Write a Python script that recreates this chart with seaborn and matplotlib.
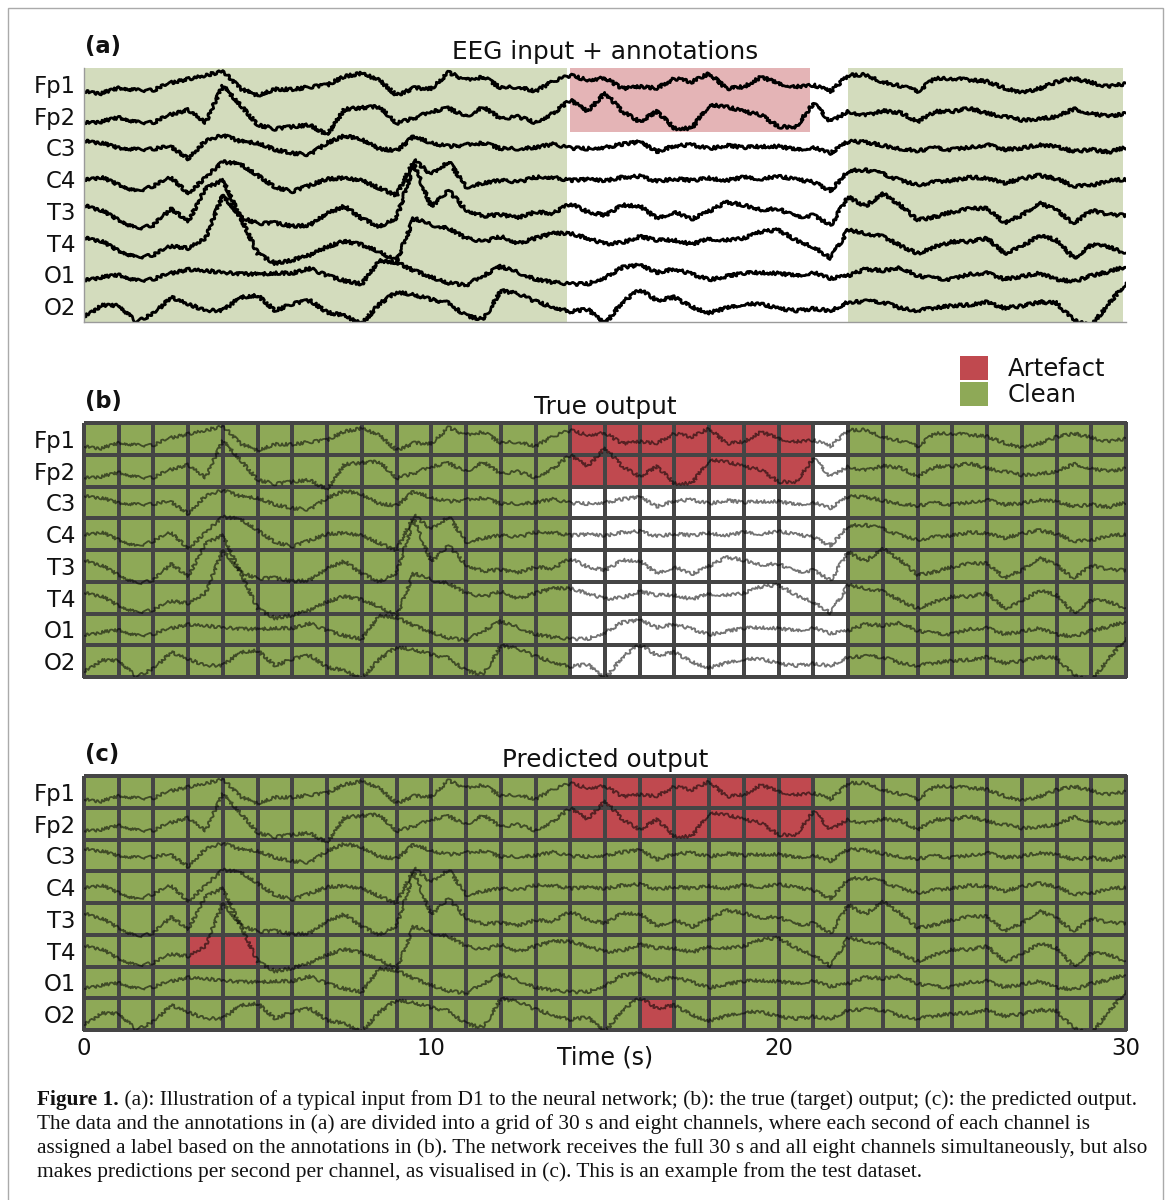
import numpy as np
import pandas as pd
import matplotlib
matplotlib.use("Agg")
import matplotlib.pyplot as plt
import seaborn as sns
from matplotlib.colors import ListedColormap
from matplotlib.patches import Patch, Rectangle

# ---------------- data ----------------
channels = ["Fp1", "Fp2", "C3", "C4", "T3", "T4", "O1", "O2"]
time_s = [i * 0.5 for i in range(61)]

# EEG traces (deflection from channel baseline, in row-height units, + = up)
fp1 = [-0.25, -0.30, -0.13, -0.20, -0.20, 0.04, 0.15, 0.27, 0.40, -0.15,
       -0.36, -0.17, -0.17, -0.10, -0.04, 0.24, 0.33, 0.12, -0.36, -0.13,
       -0.15, 0.36, 0.12, 0.22, -0.13, -0.09, -0.23, 0.08, 0.27, 0.12,
       0.19, -0.15, -0.09, -0.13, 0.17, 0.06, 0.33, -0.15, -0.09, 0.22,
       0.01, -0.09, -0.04, -0.23, 0.27, 0.29, 0.06, -0.06, -0.23, 0.17,
       0.17, 0.12, 0.08, -0.13, -0.27, -0.15, 0.06, 0.17, 0.04, -0.09,
       0.01]
fp2 = [-0.24, -0.19, -0.06, -0.21, -0.22, 0.04, 0.18, -0.21, 0.94, 0.34,
       -0.29, -0.42, -0.35, -0.29, -0.61, 0.20, 0.25, 0.28, -0.24, -0.08,
       0.13, 0.23, -0.03, 0.28, -0.10, -0.03, -0.22, 0.07, 0.49, 0.13,
       0.72, 0.13, -0.19, 0.13, -0.40, -0.40, 0.34, 0.28, 0.13, 0.02,
       -0.35, -0.35, 0.39, -0.19, 0.13, 0.00, 0.15, 0.10, -0.19, 0.13,
       0.13, 0.23, 0.07, -0.03, -0.14, -0.10, -0.03, 0.21, 0.07, -0.03,
       0.07]
c3 = [0.19, 0.14, -0.02, -0.07, -0.05, 0.03, -0.36, 0.21, 0.38, 0.19,
      0.14, -0.07, -0.18, -0.23, 0.14, 0.37, 0.24, -0.04, -0.10, 0.35,
      0.14, 0.03, 0.08, 0.14, -0.04, -0.04, 0.00, 0.10, -0.02, -0.04,
      0.00, 0.10, 0.17, -0.13, 0.05, 0.08, -0.04, 0.06, 0.00, 0.03,
      0.03, -0.07, 0.00, -0.18, 0.19, 0.17, 0.06, -0.04, -0.10, -0.02,
      -0.07, 0.00, 0.08, -0.07, -0.02, 0.08, 0.03, -0.13, -0.07, -0.15,
      0.00]
c4 = [-0.04, 0.06, -0.18, -0.39, -0.22, 0.06, -0.46, 0.06, 0.54, 0.48,
      0.12, -0.25, -0.39, -0.20, 0.01, 0.03, -0.04, -0.28, -0.51, 0.60,
      0.15, 0.55, -0.25, -0.12, -0.04, -0.09, 0.06, 0.06, -0.04, -0.01,
      -0.05, 0.06, 0.09, -0.07, 0.01, -0.04, 0.03, -0.04, 0.06, 0.01,
      0.09, -0.01, -0.09, -0.36, 0.27, 0.29, 0.17, -0.04, -0.18, -0.09,
      -0.04, 0.06, 0.03, -0.12, 0.01, 0.12, 0.01, -0.22, -0.20, -0.04,
      -0.01]
t3 = [0.16, 0.02, -0.29, -0.56, -0.45, 0.07, -0.33, 0.70, 0.97, -0.19,
      -0.40, -0.38, -0.48, -0.45, -0.08, 0.15, -0.24, -0.50, -0.22, 1.45,
      0.13, 0.65, 0.02, -0.16, -0.12, -0.22, -0.03, -0.08, 0.23, -0.03,
      -0.14, 0.18, 0.16, -0.24, -0.03, -0.26, -0.01, 0.28, 0.18, 0.04,
      0.07, -0.19, -0.14, -0.45, 0.44, 0.15, 0.55, 0.18, -0.29, -0.19,
      -0.03, 0.07, 0.09, -0.37, -0.14, 0.26, 0.02, -0.40, 0.02, -0.12,
      -0.14]
t4 = [0.14, 0.05, -0.26, -0.47, -0.39, -0.10, -0.18, 0.15, 1.50, 0.82,
      -0.35, -0.65, -0.55, -0.39, -0.13, 0.05, -0.07, -0.28, -0.58, 0.77,
      0.56, 0.45, 0.14, 0.03, 0.19, -0.02, 0.14, 0.29, 0.29, 0.14,
      -0.04, 0.00, 0.19, 0.08, 0.08, -0.05, 0.12, 0.08, 0.14, 0.35,
      0.40, 0.08, -0.13, -0.49, 0.40, 0.29, 0.19, -0.09, -0.34, -0.13,
      0.03, 0.03, 0.14, -0.34, -0.13, 0.24, 0.08, -0.49, -0.07, -0.13,
      -0.34]
o1 = [-0.20, -0.09, -0.02, -0.20, -0.15, 0.04, 0.15, 0.12, 0.06, 0.01,
      0.01, 0.04, 0.04, 0.19, -0.04, -0.20, -0.30, 0.43, 0.38, 0.12,
      -0.09, -0.27, -0.34, -0.04, 0.25, 0.06, -0.15, -0.25, -0.30, -0.30,
      -0.10, 0.22, 0.29, 0.06, 0.17, 0.01, -0.17, -0.06, 0.04, 0.06,
      0.03, -0.04, 0.06, -0.13, -0.04, 0.17, 0.12, 0.22, -0.04, -0.13,
      -0.15, 0.01, 0.04, -0.15, -0.06, 0.04, -0.15, -0.23, -0.04, 0.08,
      0.25]
o2 = [-0.35, 0.02, 0.02, -0.50, -0.24, 0.28, 0.07, -0.14, -0.14, 0.28,
      0.34, -0.14, 0.07, 0.18, -0.19, -0.30, -0.56, 0.07, 0.44, 0.36,
      0.21, 0.10, -0.31, -0.42, 0.49, 0.39, 0.15, -0.03, -0.17, -0.10,
      -0.56, 0.13, 0.52, 0.18, 0.28, -0.03, -0.21, -0.06, 0.07, 0.07,
      -0.08, -0.14, -0.08, -0.14, 0.13, 0.15, 0.13, -0.06, -0.14, -0.06,
      0.02, 0.04, 0.13, -0.06, 0.00, 0.13, 0.10, -0.45, -0.61, 0.07,
      0.73]
traces = [fp1, fp2, c3, c4, t3, t4, o1, o2]

# annotations in panel (a) (seconds)
clean_spans = [(0.0, 13.9), (22.0, 29.9)]
artefact_span = (14.0, 20.9)
artefact_channels = ["Fp1", "Fp2"]

# per-second labels: C = clean, A = artefact, U = unlabelled
true_output = {
    "Fp1": "C" * 14 + "A" * 7 + "U" + "C" * 8,
    "Fp2": "C" * 14 + "A" * 7 + "U" + "C" * 8,
    "C3": "C" * 14 + "U" * 8 + "C" * 8,
    "C4": "C" * 14 + "U" * 8 + "C" * 8,
    "T3": "C" * 14 + "U" * 8 + "C" * 8,
    "T4": "C" * 14 + "U" * 8 + "C" * 8,
    "O1": "C" * 14 + "U" * 8 + "C" * 8,
    "O2": "C" * 14 + "U" * 8 + "C" * 8,
}
pred_output = {
    "Fp1": "C" * 14 + "A" * 7 + "C" * 9,
    "Fp2": "C" * 14 + "A" * 8 + "C" * 8,
    "C3": "C" * 30,
    "C4": "C" * 30,
    "T3": "C" * 30,
    "T4": "C" * 3 + "A" * 2 + "C" * 25,
    "O1": "C" * 30,
    "O2": "C" * 16 + "A" + "C" * 13,
}
x_ticks = [0, 10, 20, 30]

# ---------------- style ----------------
sns.set_style("white")
plt.rcParams["font.family"] = ["DejaVu Sans"]
plt.rcParams["text.color"] = "#111111"
plt.rcParams["xtick.labelcolor"] = "#111111"
plt.rcParams["ytick.labelcolor"] = "#111111"

GREEN = "#8ea957"
RED = "#c0494f"
LGREEN = "#d3dcbd"
LRED = "#e4b4b6"
GRIDC = "#454545"
code = {"U": 0, "C": 1, "A": 2}
cmap = ListedColormap(["white", GREEN, RED])

W, H = 1171, 1200
fig = plt.figure(figsize=(W / 100, H / 100), dpi=100)


def box(top_px, bottom_px):
    return [84 / W, 1 - bottom_px / H, (1126 - 84) / W, (bottom_px - top_px) / H]


ax_a = fig.add_axes(box(68, 322))
ax_b = fig.add_axes(box(423, 677))
ax_c = fig.add_axes(box(776, 1030))

rows = []
for i, (ch, vals) in enumerate(zip(channels, traces)):
    for t, v in zip(time_s, vals):
        rows.append({"channel": ch, "time": t, "ypos": i + 0.5 - v})
df = pd.DataFrame(rows)

TICK_FS = 16.4
TITLE_FS = 17.8


def jagged(ax, n_before):
    # EEG-like rendering texture (drawing style only, data unchanged)
    for ln in ax.lines[n_before:]:
        ln.set_sketch_params(scale=1.6, length=3.0, randomness=12)


# ---- panel (a)
for s, e in clean_spans:
    ax_a.axvspan(s, e, color=LGREEN, lw=0, zorder=0)
ax_a.axvspan(artefact_span[0], artefact_span[1], ymin=1 - len(artefact_channels) / 8,
             ymax=1.0, color=LRED, lw=0, zorder=0)
n0 = len(ax_a.lines)
sns.lineplot(data=df, x="time", y="ypos", units="channel", estimator=None,
             color="black", lw=2.0, ax=ax_a, sort=False)
jagged(ax_a, n0)
ax_a.set_xlim(0, 30)
ax_a.set_ylim(8, 0)
ax_a.set_xticks(x_ticks)
ax_a.set_xticklabels([])
ax_a.set_yticks([i + 0.5 for i in range(8)])
ax_a.set_yticklabels(channels, fontsize=TICK_FS)
ax_a.tick_params(direction="in", length=5, width=1, color="#888888", pad=6)
ax_a.set_xlabel("")
ax_a.set_ylabel("")
for sp in ["top", "right"]:
    ax_a.spines[sp].set_visible(False)
for sp in ["left", "bottom"]:
    ax_a.spines[sp].set_color("#9a9a9a")
    ax_a.spines[sp].set_linewidth(1)
ax_a.set_title("EEG input + annotations", fontsize=TITLE_FS, pad=6.5, color="#111111")


def grid_panel(ax, labels, title):
    mat = np.array([[code[c] for c in labels[ch]] for ch in channels])
    sns.heatmap(mat, ax=ax, cmap=cmap, vmin=-0.5, vmax=2.5, cbar=False,
                linewidths=1.5, linecolor=GRIDC, xticklabels=False, yticklabels=False)
    ax.collections[0].set_clip_on(False)
    n_before = len(ax.lines)
    sns.lineplot(data=df, x="time", y="ypos", units="channel", estimator=None,
                 color="black", alpha=0.55, lw=1.3, ax=ax, sort=False)
    jagged(ax, n_before)
    ax.set_xlim(0, 30)
    ax.set_ylim(8, 0)
    ax.set_xticks(x_ticks)
    ax.set_yticks([i + 0.5 for i in range(8)])
    ax.set_yticklabels(channels, fontsize=TICK_FS, rotation=0)
    ax.tick_params(direction="in", length=5, width=1, color="#666666", pad=6)
    ax.set_xlabel("")
    ax.set_ylabel("")
    ax.set_title(title, fontsize=TITLE_FS, pad=6.5, color="#111111")


grid_panel(ax_b, true_output, "True output")
ax_b.set_xticklabels([])
grid_panel(ax_c, pred_output, "Predicted output")
ax_c.set_xticklabels([str(v) for v in x_ticks], fontsize=TICK_FS)
ax_c.tick_params(axis="x", pad=5)
ax_c.text(0.5, -27 / 254, "Time (s)", transform=ax_c.transAxes, ha="center",
          va="center", fontsize=17, color="#111111", clip_on=False)

for ax, lab in [(ax_a, "(a)"), (ax_b, "(b)"), (ax_c, "(c)")]:
    ax.annotate(lab, xy=(0, 1), xycoords="axes fraction", xytext=(0.7, 11),
                textcoords="offset points", ha="left", va="baseline",
                fontsize=16.3, fontweight="bold", color="#111111")

# legend
handles = [Patch(facecolor=RED, edgecolor="none", label="Artefact"),
           Patch(facecolor=GREEN, edgecolor="none", label="Clean")]
fig.legend(handles=handles, loc="upper left", bbox_to_anchor=(960 / W, 1 - 356 / H),
           frameon=False, fontsize=17.5, handlelength=1.15, handleheight=1.15,
           handletextpad=0.8, labelspacing=0.02, borderpad=0, borderaxespad=0)

# caption
cap_family = ["Liberation Serif", "DejaVu Serif"]
bold_txt = "Figure 1."
cap_lines = [
    " (a): Illustration of a typical input from D1 to the neural network; (b): the true (target) output; (c): the predicted output.",
    "The data and the annotations in (a) are divided into a grid of 30 s and eight channels, where each second of each channel is",
    "assigned a label based on the annotations in (b). The network receives the full 30 s and all eight channels simultaneously, but also",
    "makes predictions per second per channel, as visualised in (c). This is an example from the test dataset.",
]
renderer = fig.canvas.get_renderer()
probe_b = fig.text(0, 0, bold_txt, fontsize=12, fontweight="bold", family=cap_family)
probe_r = fig.text(0, 0, cap_lines[0], fontsize=12, family=cap_family)
wtot = probe_b.get_window_extent(renderer).width + probe_r.get_window_extent(renderer).width
probe_b.remove()
probe_r.remove()
cap_fs = 12 * (1096 / wtot)
x0 = 37
line_y = [1100, 1124, 1148, 1172]
tb = fig.text(x0 / W, 1 - line_y[0] / H, bold_txt, fontsize=cap_fs, fontweight="bold",
              family=cap_family, va="center", ha="left", color="#111111")
bw = tb.get_window_extent(renderer).width
fig.text((x0 + bw) / W, 1 - line_y[0] / H, cap_lines[0], fontsize=cap_fs,
         family=cap_family, va="center", ha="left", color="#111111")
for y, s in zip(line_y[1:], cap_lines[1:]):
    fig.text(x0 / W, 1 - y / H, s, fontsize=cap_fs, family=cap_family, va="center",
             ha="left", color="#111111")

# outer frame
fig.add_artist(Rectangle((8 / W, -0.01), (1163 - 8) / W, 1 - 8 / H + 0.01,
                         transform=fig.transFigure, fill=False,
                         edgecolor="#aaaaaa", lw=1))

fig.savefig("out.png", dpi=100)
